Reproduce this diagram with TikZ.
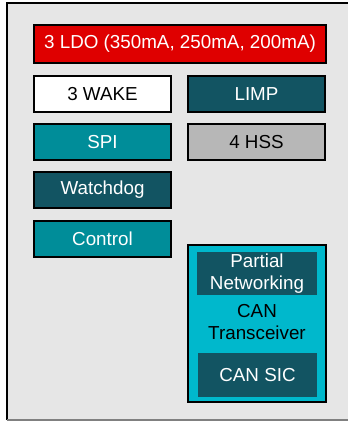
\documentclass[tikz,border=0pt]{standalone}
\usepackage{fontspec}
\setmainfont{Liberation Sans}
\definecolor{ldored}{HTML}{DF0000}
\definecolor{darkteal}{HTML}{125462}
\definecolor{teal}{HTML}{008D99}
\definecolor{cyanbox}{HTML}{00B8CC}
\definecolor{hssgray}{HTML}{B7B7B7}
\definecolor{bggray}{HTML}{E6E6E6}

\tikzset{
    blok/.style={draw=black, line width=2pt, minimum width=137pt, minimum height=36pt,
        inner sep=0pt, text=white, font=\fontsize{18.8}{21.5}\selectfont},
    inblok/.style={fill=darkteal, minimum width=120pt, inner sep=0pt, align=center,
        text=white, font=\fontsize{18.8}{21.5}\selectfont}
}

\begin{document}
\begin{tikzpicture}[x=1pt, y=-1pt]
    \useasboundingbox (0,0) rectangle (348,421);
    \fill[bggray] (7,3) rectangle (352,420);
    \draw[line width=2.4pt] (7,420) -- (7,3) -- (352,3);
    \draw[line width=1.5pt, gray] (7,420) -- (352,420);

    \path node[blok, fill=ldored, minimum width=292pt, minimum height=38pt] (ldo) at (180,44) {3 LDO (350mA, 250mA, 200mA)}
        node[blok, fill=white, text=black] (wake) at (102.5,94) {3 WAKE}
        node[blok, fill=darkteal] (limp) at (256.5,94) {LIMP}
        node[blok, fill=teal] (spi) at (102.5,142) {SPI}
        node[blok, fill=hssgray, text=black] (hss) at (256.5,142) {4 HSS}
        node[blok, fill=darkteal] (wdog) at (102.5,190) {Watchdog}
        node[blok, fill=teal] (ctrl) at (102.5,239) {Control};

    % CAN transceiver block
    \path node[blok, fill=cyanbox, minimum width=138pt, minimum height=157pt] (can) at (257,323.5) {}
        node[inblok, minimum height=43pt] (pn) at (257,273.5) {Partial\\Networking}
        node[align=center, inner sep=0pt, font=\fontsize{18.8}{21.5}\selectfont] (canlbl) at (257,322) {CAN\\Transceiver}
        node[inblok, minimum width=119pt, minimum height=44pt] (sic) at (257.5,375) {CAN SIC};
\end{tikzpicture}
\end{document}
